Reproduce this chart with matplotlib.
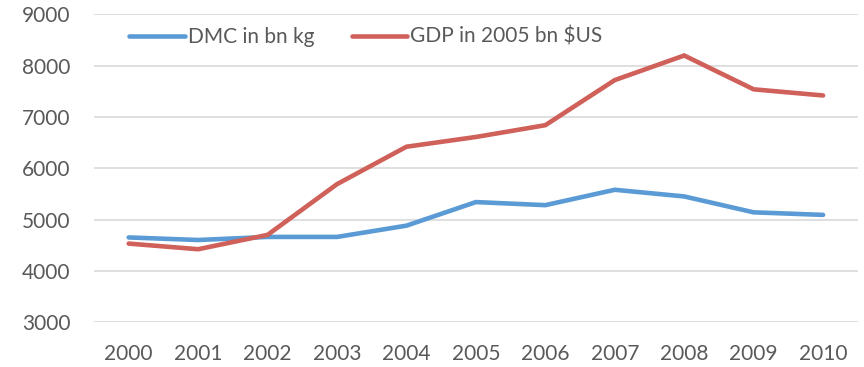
import matplotlib
matplotlib.use("Agg")
import matplotlib.pyplot as plt

years = ["2000", "2001", "2002", "2003", "2004", "2005",
         "2006", "2007", "2008", "2009", "2010"]
dmc = [4650, 4600, 4660, 4660, 4880, 5340, 5280, 5580, 5450, 5140, 5090]
gdp = [4530, 4420, 4700, 5690, 6420, 6610, 6840, 7720, 8200, 7540, 7420]

plt.rcParams["font.family"] = ["Lato", "DejaVu Sans"]
text_col = "#595959"

fig = plt.figure(figsize=(8.64, 3.67), dpi=100)
ax = fig.add_axes([0.1088, 0.1226, 0.884, 0.8379])

x = list(range(len(years)))
ax.plot(x, dmc, color="#5B9BD5", lw=3.3, solid_capstyle="round",
        solid_joinstyle="miter", label="DMC in bn kg", zorder=3)
ax.plot(x, gdp, color="#D0605A", lw=3.3, solid_capstyle="round",
        solid_joinstyle="miter", label="GDP in 2005 bn $US", zorder=3)

ax.set_xlim(-0.5, len(years) - 0.5)
ax.set_ylim(3000, 9000)
ax.set_yticks(range(3000, 9001, 1000))
ax.set_xticks(x)
ax.set_xticklabels(years)

ax.grid(axis="y", color="#D9D9D9", lw=1.2)
ax.set_axisbelow(True)
for s in ax.spines.values():
    s.set_visible(False)
ax.tick_params(length=0, labelsize=15, colors=text_col)
ax.tick_params(axis="x", pad=16)
ax.tick_params(axis="y", pad=17)

ax.legend(loc="upper left", bbox_to_anchor=(0.03, 1.0), ncol=2, frameon=False,
          fontsize=15, labelcolor=text_col, handlelength=2.65,
          handletextpad=0.15, columnspacing=1.8, borderaxespad=0.2)

fig.savefig("out.png", dpi=100)
